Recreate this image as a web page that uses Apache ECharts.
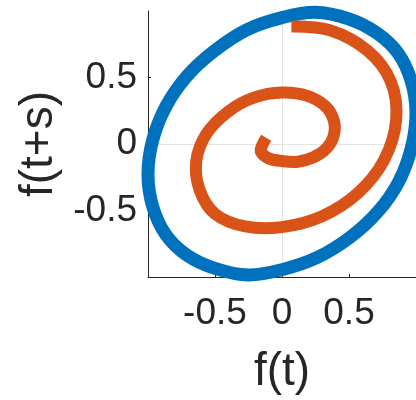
<!DOCTYPE html>
<html>
<head>
<meta charset="utf-8">
<script src="https://cdn.jsdelivr.net/npm/echarts@6/dist/echarts.min.js"></script>
<style>
  html, body { margin: 0; padding: 0; background: #ffffff; }
  #chart { width: 416px; height: 400px; }
</style>
</head>
<body>
<div id="chart"></div>
<script>
// Phase portrait: f(t) against the shifted signal f(t+s)
const xTicks = [-0.5, 0, 0.5];
const yTicks = [-0.5, 0, 0.5];

// Closed orbit (undamped signal), traced clockwise from the right
const orbitX = [1.00, 0.965, 0.87, 0.715, 0.51, 0.26, 0.00, -0.25, -0.50, -0.71, -0.868, -0.965, -1.00, -0.965, -0.865, -0.71, -0.505, -0.26, 0.00, 0.25, 0.50, 0.707, 0.868, 0.965];
const orbitY = [0.23, -0.03, -0.285, -0.51, -0.70, -0.855, -0.945, -0.985, -0.935, -0.835, -0.68, -0.47, -0.23, 0.03, 0.285, 0.51, 0.70, 0.86, 0.95, 0.99, 0.94, 0.835, 0.68, 0.47];

// Spiral (damped signal), from the outer start to the inner end
const spiralX = [0.07, 0.358, 0.641, 0.812, 0.852, 0.762, 0.565, 0.295, 0.00, -0.275, -0.50, -0.615, -0.64, -0.565, -0.40, -0.205, 0.00, 0.19, 0.325, 0.388, 0.385, 0.33, 0.235, 0.118, 0.00, -0.10, -0.157, -0.15, -0.118];
const spiralY = [0.884, 0.855, 0.70, 0.47, 0.18, -0.12, -0.37, -0.545, -0.625, -0.62, -0.525, -0.345, -0.13, 0.075, 0.245, 0.35, 0.387, 0.362, 0.283, 0.172, 0.06, -0.035, -0.10, -0.133, -0.128, -0.108, -0.06, -0.015, 0.047];

const zip = (xs, ys) => xs.map((x, i) => [x, ys[i]]);

const FONT = '"Liberation Sans", Arial, Helvetica, sans-serif';
const INK = '#262626';
const GRID = '#e3e3e3';

function axis(ticks, name, nameGap, labelMargin) {
  return {
    type: 'value', min: -1, max: 1, interval: 0.5,
    name: name, nameLocation: 'middle', nameGap: nameGap,
    nameTextStyle: { fontSize: 46, color: INK, fontFamily: FONT },
    axisLine: { show: true, onZero: false, lineStyle: { color: INK, width: 1 } },
    axisTick: { show: true, inside: true, length: 3, customValues: ticks, lineStyle: { color: INK, width: 1 } },
    axisLabel: { customValues: ticks, fontSize: 37, color: INK, fontFamily: FONT, margin: labelMargin },
    splitLine: { show: true, showMinLine: false, showMaxLine: false, lineStyle: { color: GRID, width: 1 } }
  };
}

// One smooth stroke through all points, positioned with the cartesian axes
function curveSeries(xs, ys, color, width, closed) {
  const pts = zip(xs, ys);
  return {
    type: 'custom', coordinateSystem: 'cartesian2d', clip: false,
    data: pts,
    renderItem: (params, api) => {
      if (params.dataIndex !== 0) return null;
      const px = pts.map(p => api.coord(p));
      return {
        type: closed ? 'polygon' : 'polyline',
        silent: true,
        shape: { points: px, smooth: 0.35 },
        style: { fill: 'none', stroke: color, lineWidth: width, lineCap: 'butt', lineJoin: 'round' }
      };
    }
  };
}

const chart = echarts.init(document.getElementById('chart'), null, { renderer: 'canvas' });
chart.setOption({
  animation: false,
  backgroundColor: '#ffffff',
  grid: { left: 148, top: 11, width: 270, height: 268, containLabel: false },
  xAxis: axis(xTicks, 'f(t)', 72, 18),
  yAxis: Object.assign(axis(yTicks, 'f(t+s)', 80, 11), { nameRotate: 90 }),
  series: [
    curveSeries(orbitX, orbitY, '#0072BD', 13, true),
    curveSeries(spiralX, spiralY, '#D95319', 12, false)
  ]
});
</script>
</body>
</html>
